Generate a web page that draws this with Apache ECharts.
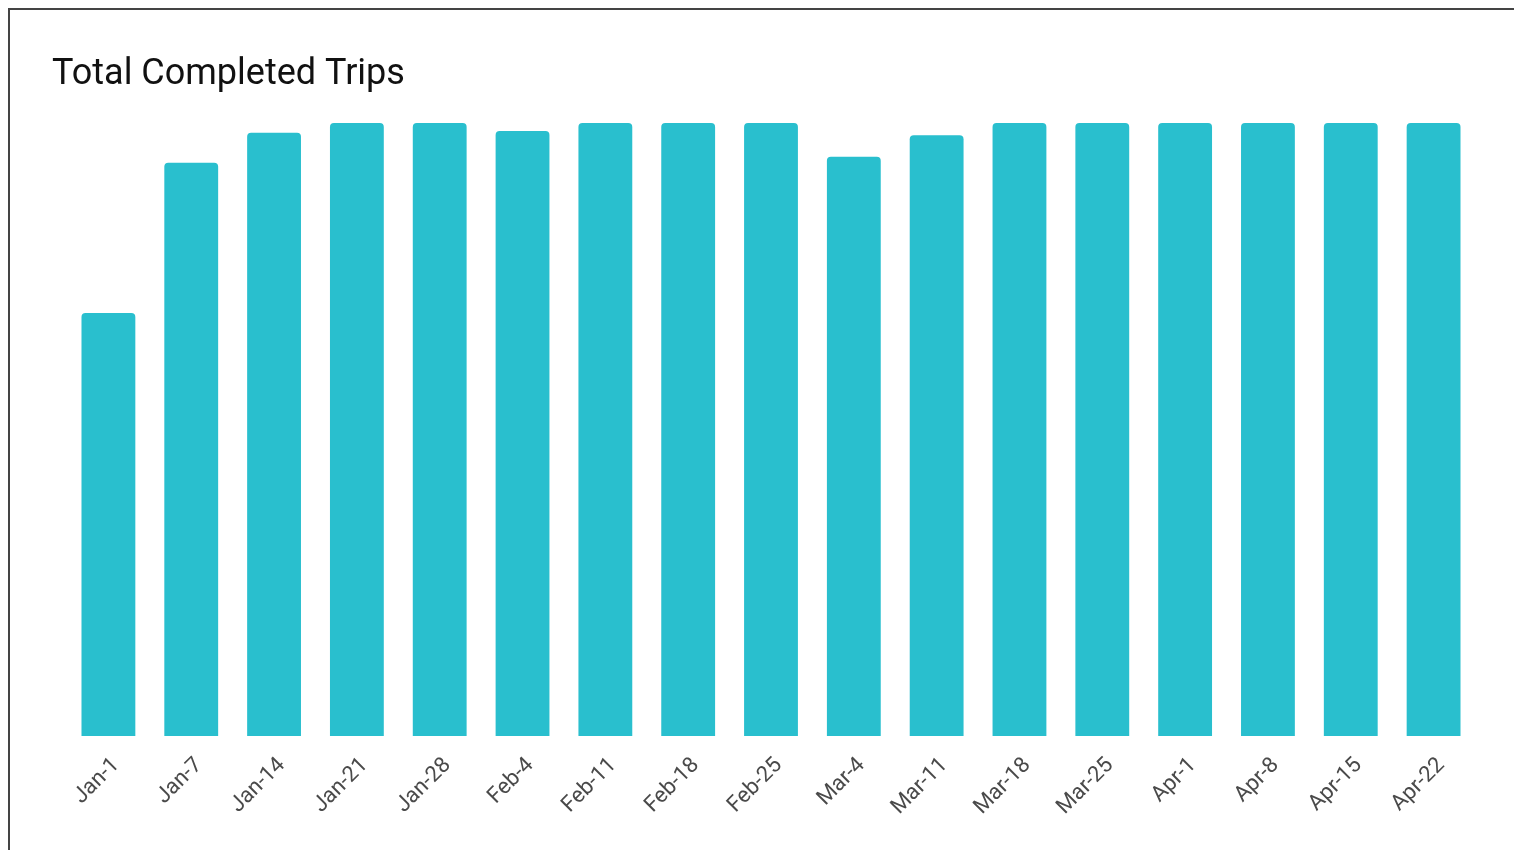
<!DOCTYPE html>
<html>
<head>
<meta charset="utf-8">
<script src="https://cdn.jsdelivr.net/npm/echarts@6/dist/echarts.min.js"></script>
<style>
html,body{margin:0;padding:0;background:#fff;}
#c{width:1514px;height:850px;}
</style>
</head>
<body>
<div id="c"></div>
<script>
const categories = ['Jan-1','Jan-7','Jan-14','Jan-21','Jan-28','Feb-4','Feb-11','Feb-18','Feb-25','Mar-4','Mar-11','Mar-18','Mar-25','Apr-1','Apr-8','Apr-15','Apr-22'];
const completedTrips = [69.0, 93.5, 98.4, 104, 106, 98.7, 105, 107, 104, 94.5, 98.0, 108, 110, 109, 112, 111, 113];
const axisMax = 100;

const chart = echarts.init(document.getElementById('c'));
chart.setOption({
  animation: false,
  title: {
    text: 'Total Completed Trips',
    left: 47, top: 52,
    textStyle: {fontFamily: 'Roboto', fontSize: 36, fontWeight: 'normal', color: '#111'}
  },
  graphic: [{
    type: 'rect', silent: true,
    shape: {x: 9, y: 9, width: 3000, height: 3000},
    style: {fill: 'none', stroke: '#444', lineWidth: 2}
  }],
  grid: {left: 67, right: 39, top: 123, bottom: 114, containLabel: false},
  xAxis: {
    type: 'category',
    data: categories,
    axisLine: {show: false},
    axisTick: {show: false},
    axisLabel: {rotate: 45, interval: 0, margin: 18, verticalAlign: 'top', fontFamily: 'Roboto', fontSize: 22, color: '#4a4a4a'}
  },
  yAxis: {
    type: 'value', min: 0, max: axisMax, show: false,
    splitLine: {show: false}
  },
  series: [{
    type: 'bar',
    data: completedTrips,
    barWidth: '65%',
    clip: true,
    itemStyle: {color: '#29bfce', borderRadius: [4,4,0,0]}
  }]
});
</script>
</body>
</html>
